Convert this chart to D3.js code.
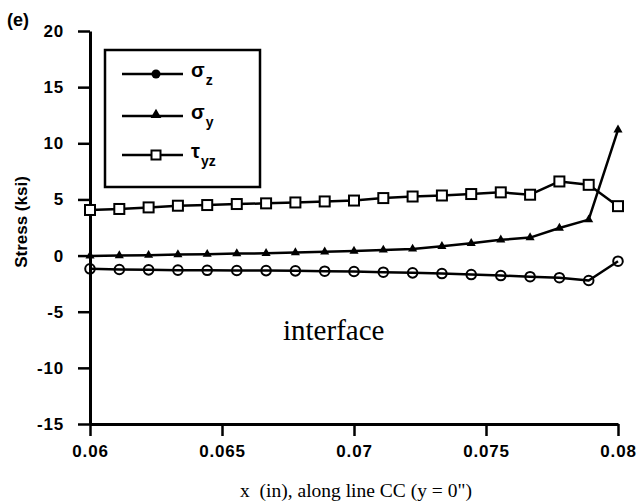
<!DOCTYPE html>
<html>
<head>
<meta charset="utf-8">
<script src="https://cdn.jsdelivr.net/npm/d3@7"></script>
<style>
  html, body { margin: 0; padding: 0; background: #fff; }
  svg { display: block; }
</style>
</head>
<body>
<svg id="chart" width="637" height="504"></svg>
<script>
// ---- data ----
const xValues = [0.06, 0.06111, 0.06222, 0.06333, 0.06444, 0.06556, 0.06667, 0.06778, 0.06889, 0.07,
                 0.07111, 0.07222, 0.07333, 0.07444, 0.07556, 0.07667, 0.07778, 0.07889, 0.08];
const sigmaZ = [-1.18, -1.24, -1.27, -1.3, -1.31, -1.33, -1.34, -1.36, -1.39, -1.42,
                -1.48, -1.54, -1.6, -1.69, -1.78, -1.88, -1.97, -2.22, -0.5];
const sigmaY = [-0.03, 0, 0.03, 0.09, 0.12, 0.18, 0.2, 0.27, 0.33, 0.4,
                0.5, 0.59, 0.83, 1.09, 1.4, 1.6, 2.45, 3.2, 11.2];
const tauYZ  = [4.06, 4.15, 4.29, 4.44, 4.5, 4.59, 4.65, 4.73, 4.82, 4.9,
                5.12, 5.26, 5.35, 5.48, 5.63, 5.42, 6.6, 6.3, 4.4];
const xTicks = [0.06, 0.065, 0.07, 0.075, 0.08];
const xTickLabels = ["0.06", "0.065", "0.07", "0.075", "0.08"];
const yTicks = [-15, -10, -5, 0, 5, 10, 15, 20];
const yTickLabels = ["-15", "-10", "-5", "0", "5", "10", "15", "20"];
const seriesNames = ["σz", "σy", "τyz"];

// ---- layout ----
const svg = d3.select("#chart");
const x = d3.scaleLinear().domain([0.06, 0.08]).range([90, 618]);
const y = d3.scaleLinear().domain([-15, 20]).range([424, 31]);
const tickFont = "'Liberation Sans Narrow','Liberation Sans',Arial,sans-serif";

// axes
const yAxis = svg.append("g").attr("transform", "translate(90,0)")
  .call(d3.axisLeft(y).tickValues(yTicks).tickSize(12).tickSizeOuter(0).tickPadding(14)
        .tickFormat((d, i) => yTickLabels[i]));
const xAxis = svg.append("g").attr("transform", "translate(0,424)")
  .call(d3.axisBottom(x).tickValues(xTicks).tickSize(12).tickSizeOuter(0).tickPadding(9)
        .tickFormat((d, i) => xTickLabels[i]));
[xAxis, yAxis].forEach(g => {
  g.select(".domain").attr("stroke", "#000").attr("stroke-width", 3);
  g.selectAll(".tick line").attr("stroke", "#000").attr("stroke-width", 2.5);
  g.selectAll(".tick text").attr("fill", "#000")
    .style("font-family", tickFont).style("font-weight", "bold").style("font-size", "17px")
    .style("letter-spacing", "0.8px");
});

// lines
const line = d3.line().x((d, i) => x(xValues[i])).y(d => y(d));
[sigmaZ, sigmaY, tauYZ].forEach(s => {
  svg.append("path").datum(s).attr("d", line)
    .attr("fill", "none").attr("stroke", "#000").attr("stroke-width", 2.5)
    .attr("stroke-linejoin", "round");
});

// markers
svg.append("g").selectAll("circle").data(sigmaZ).join("circle")
  .attr("cx", (d, i) => x(xValues[i])).attr("cy", d => y(d)).attr("r", 4.8)
  .attr("fill", "none").attr("stroke", "#000").attr("stroke-width", 2);
const tri = d3.symbol().type(d3.symbolTriangle).size(36);
svg.append("g").selectAll("path").data(sigmaY).join("path")
  .attr("d", tri).attr("transform", (d, i) => `translate(${x(xValues[i])},${y(d)})`)
  .attr("fill", "#000");
svg.append("g").selectAll("rect").data(tauYZ).join("rect")
  .attr("x", (d, i) => x(xValues[i]) - 5).attr("y", d => y(d) - 5)
  .attr("width", 10).attr("height", 10)
  .attr("fill", "#fff").attr("stroke", "#000").attr("stroke-width", 2);

// legend
const lg = svg.append("g");
lg.append("rect").attr("x", 105).attr("y", 50).attr("width", 155).attr("height", 137)
  .attr("fill", "#fff").attr("stroke", "#000").attr("stroke-width", 2.5);
const rows = [74, 116, 155];
rows.forEach((ry, i) => {
  lg.append("line").attr("x1", 122).attr("x2", 183).attr("y1", ry).attr("y2", ry)
    .attr("stroke", "#000").attr("stroke-width", 2.5);
  if (i === 0) lg.append("circle").attr("cx", 156).attr("cy", ry).attr("r", 4.5).attr("fill", "#000");
  if (i === 1) lg.append("path").attr("d", d3.symbol().type(d3.symbolTriangle).size(50))
    .attr("transform", `translate(156,${ry - 1})`).attr("fill", "#000");
  if (i === 2) lg.append("rect").attr("x", 151.5).attr("y", ry - 4.5).attr("width", 9).attr("height", 9)
    .attr("fill", "#fff").attr("stroke", "#000").attr("stroke-width", 2);
  const t = lg.append("text").attr("x", 191).attr("y", ry + 3)
    .style("font-family", tickFont).style("font-weight", "bold").style("font-size", "20px");
  t.append("tspan").text(seriesNames[i].charAt(0));
  t.append("tspan").attr("dy", 8).attr("dx", 1).style("font-size", "14px").text(seriesNames[i].slice(1));
});

// texts
svg.append("text").attr("x", 7).attr("y", 26).text("(e)")
  .style("font-family", tickFont).style("font-weight", "bold").style("font-size", "18px");
svg.append("text").attr("transform", "translate(27,222) rotate(-90)").attr("text-anchor", "middle")
  .text("Stress (ksi)")
  .style("font-family", tickFont).style("font-weight", "bold").style("font-size", "17px");
svg.append("text").attr("x", 356).attr("y", 497).attr("text-anchor", "middle")
  .text("x  (in), along line CC (y = 0\")")
  .style("font-family", "'Liberation Serif','Times New Roman',serif").style("font-size", "19.5px")
  .style("white-space", "pre").attr("xml:space", "preserve");
svg.append("text").attr("x", 283).attr("y", 340).text("interface")
  .style("font-family", "'Liberation Serif','Times New Roman',serif").style("font-size", "29px");
</script>
</body>
</html>
